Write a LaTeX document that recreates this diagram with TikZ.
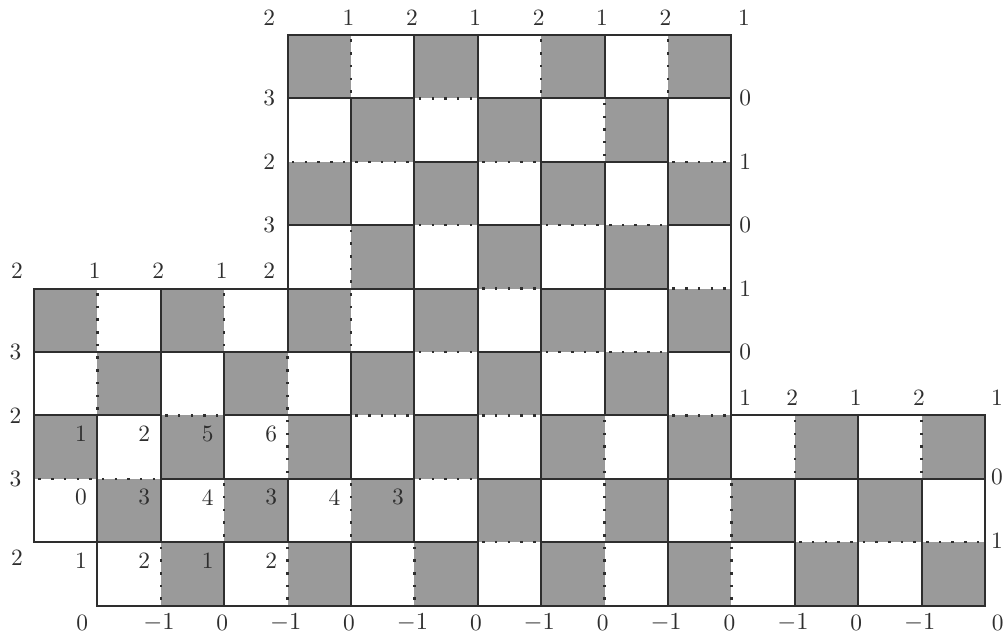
\documentclass[tikz,border=0pt]{standalone}
\usepackage{amsmath}
\usepackage{xcolor}
\usepackage{tikz}
\usetikzlibrary{calc}
\definecolor{cellg}{HTML}{9A9A9A}
\definecolor{inkc}{HTML}{2E2E2E}
\tikzset{
  rim/.style={line width=0.9pt,inkc},
  seam/.style={line width=1.1pt,inkc,dash pattern=on 1.1pt off 4.6pt,dash phase=-2pt},
  lbl/.style={inner sep=0pt,text=inkc,font=\fontsize{10.5}{12}\selectfont}
}
\newcommand{\chk}[4]{\foreach \cx in {#1,...,#2}{\foreach \ry in {#3,...,#4}{%
  \pgfmathtruncatemacro{\pty}{mod(\cx+\ry,2)}%
  \ifnum\pty=0 \fill[cellg] (\cx,-\ry) rectangle ++(1,-1);\fi}}}
\newcommand{\hdom}[2]{\draw[rim] (#1,-#2) rectangle ++(2,-1);
  \draw[seam] (#1+1,-#2) -- ++(0,-1);}
\newcommand{\vdom}[2]{\draw[rim] (#1,-#2) rectangle ++(1,-2);
  \draw[seam] (#1,-#2-1) -- ++(1,0);}

\begin{document}
\begin{tikzpicture}[x=1cm,y=1cm]
\useasboundingbox (-0.536,0.552) rectangle (15.363,-9.511);
\chk{4}{10}{0}{3}
\chk{0}{10}{4}{5}
\chk{0}{14}{6}{7}
\chk{1}{14}{8}{8}
\foreach \cx/\ry in {4/0,7/0,9/0,8/1,4/3,0/4,2/4,4/4,0/5,3/5,3/6,8/6,11/6,13/6,2/7,4/7,8/7,10/7,1/8,3/8,5/8,8/8,10/8}
  {\hdom{\cx}{\ry}}
\foreach \cx/\ry in {6/0,4/1,5/1,7/1,10/1,6/2,8/2,9/2,7/3,10/3,6/4,8/4,9/4,2/5,5/5,7/5,10/5,0/6,1/6,6/6,7/7,12/7,13/7,14/7}
  {\vdom{\cx}{\ry}}
\node[lbl] (tp4) at (3.71,0.28) {2};
\foreach \i in {5,...,10}{\pgfmathtruncatemacro{\hv}{2-mod(\i,2)}
  \node[lbl] (tp\i) at (\i-0.04,0.28) {\hv};}
\node[lbl] (tp11) at (11.2,0.28) {1};
\foreach \j/\hv in {1/3,2/2,3/3}{\node[lbl] (lt\j) at (3.71,-\j) {\hv};}
\foreach \j/\hv in {1/0,2/1,3/0,4/1,5/0}{\node[lbl] (rt\j) at (11.22,-\j) {\hv};}
\node[lbl] (rt6) at (11.22,-5.72) {1};
\node[lbl] (lb0) at (-0.27,-3.71) {2};
\foreach \i/\hv in {1/1,2/2,3/1}{\node[lbl] (lb\i) at (\i-0.04,-3.71) {\hv};}
\node[lbl] (lb4) at (3.71,-3.71) {2};
\foreach \j/\hv in {5/3,6/2,7/3}{\node[lbl] (ls\j) at (-0.29,-\j) {\hv};}
\node[lbl] (ls8) at (-0.27,-8.24) {2};
\foreach \i/\hv in {12/2,13/1,14/2}{\node[lbl] (rb\i) at (\i-0.04,-5.72) {\hv};}
\node[lbl] (rb15) at (15.19,-5.72) {1};
\node[lbl] (rs7) at (15.19,-6.97) {0};
\node[lbl] (rs8) at (15.19,-7.97) {1};
\node[lbl] (bt1) at (0.76,-9.27) {0};
\foreach \i in {2,4,...,14}{\node[lbl] (bt\i) at (\i-0.03,-9.27) {$-1$};}
\foreach \i in {3,5,...,13}{\node[lbl] (bt\i) at (\i-0.03,-9.27) {0};}
\node[lbl] (bt15) at (15.2,-9.27) {0};
\foreach \i/\j/\hv in {1/6/1,2/6/2,3/6/5,4/6/6,1/7/0,2/7/3,3/7/4,4/7/3,5/7/4,6/7/3,1/8/1,2/8/2,3/8/1,4/8/2}
  {\node[lbl] (v\i\j) at (\i-0.26,-\j-0.29) {\hv};}
\end{tikzpicture}
\end{document}
